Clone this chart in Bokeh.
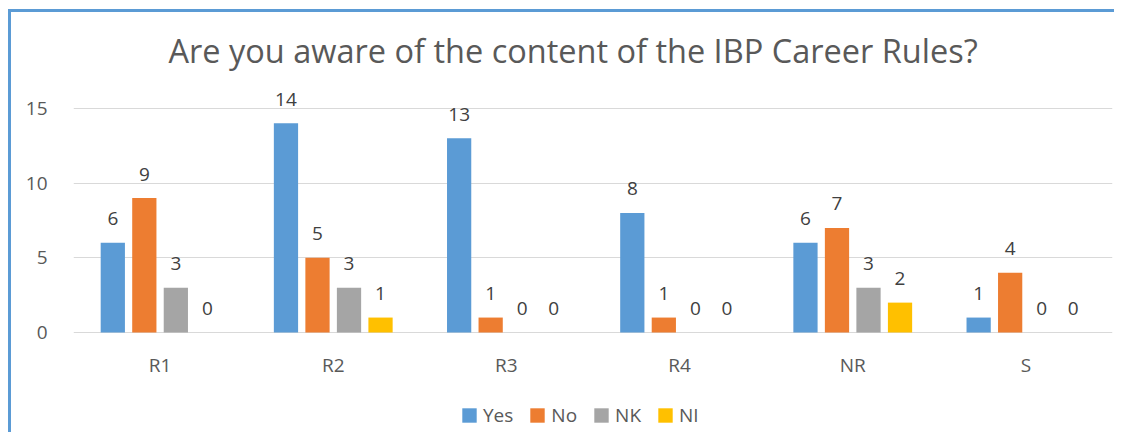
from bokeh.plotting import figure
from bokeh.models import (ColumnDataSource, FactorRange, Range1d, FixedTicker,
                          Legend, LegendItem, LabelSet)
from bokeh.core.properties import value
from bokeh.transform import dodge
from bokeh.embed import file_html
from bokeh.resources import INLINE

categories = ["R1", "R2", "R3", "R4", "NR", "S"]
series = ["Yes", "No", "NK", "NI"]
yes = [6, 14, 13, 8, 6, 1]
no = [9, 5, 1, 1, 7, 4]
nk = [3, 3, 0, 0, 3, 0]
ni = [0, 1, 0, 0, 2, 0]
y_ticks = [0, 5, 10, 15]
title_text = "Are you aware of the content of the IBP Career Rules?"

colors = ["#5B9BD5", "#ED7D31", "#A5A5A5", "#FFC000"]
offsets = [-0.273, -0.091, 0.091, 0.273]
FONT = "Open Sans"
TXT = "#595959"
FS = "19px"

data = dict(cat=categories, Yes=yes, No=no, NK=nk, NI=ni,
            base=[0] * len(categories))
for s in series:
    data[s + "_lbl"] = [str(v) for v in data[s]]
src = ColumnDataSource(data)

W, H = 1114, 432
FRAME_TOP, ZERO_Y = 78, 332          # pixel rows of the frame top and of y = 0
Y_MAX = 17
ppu = (ZERO_Y - FRAME_TOP) / Y_MAX    # pixels per unit
y_min = -(H - ZERO_Y) / ppu           # frame extends down to hold labels and legend

p = figure(x_range=FactorRange(*categories), y_range=Range1d(y_min, Y_MAX),
           width=W, height=H, output_backend="svg", toolbar_location=None,
           title=title_text,
           styles={"box-shadow": "inset 8px 9px 0 0 #ffffff, inset 11px 12px 0 0 #5B9BD5"})
p.min_border_left = 73
p.min_border_right = 2
p.min_border_top = FRAME_TOP
p.min_border_bottom = 0
p.outline_line_color = None
p.background_fill_color = "white"
p.border_fill_alpha = 0

p.title.text_font = FONT
p.title.text_font_size = "32.5px"
p.title.text_font_style = "normal"
p.title.text_color = TXT
p.title.align = "left"
p.title.offset = 95
p.title.standoff = 12

items = []
for s, c, off in zip(series, colors, offsets):
    r = p.vbar(x=dodge("cat", off, range=p.x_range), top=s, width=0.14, source=src,
               fill_color=c, line_color=None)
    items.append(LegendItem(label=s, renderers=[r]))
    lbl = LabelSet(x=dodge("cat", off, range=p.x_range), y=s, text=s + "_lbl", source=src,
                   text_align="center", text_baseline="middle", y_offset=24,
                   text_font=value(FONT), text_font_size=FS, text_color="#404040")
    p.add_layout(lbl)

# category labels under the zero line
p.add_layout(LabelSet(x="cat", y="base", text="cat", source=src,
                      text_align="center", text_baseline="middle", y_offset=-32,
                      text_font=value(FONT), text_font_size=FS, text_color=TXT))

p.xaxis.visible = False
p.xgrid.grid_line_color = None
p.ygrid.grid_line_color = "#D9D9D9"
p.ygrid.grid_line_width = 1
p.yaxis.ticker = FixedTicker(ticks=y_ticks)
p.yaxis.axis_line_color = None
p.yaxis.major_tick_line_color = None
p.yaxis.minor_tick_line_color = None
p.yaxis.major_label_standoff = 20
p.yaxis.major_label_text_font = FONT
p.yaxis.major_label_text_font_size = FS
p.yaxis.major_label_text_color = TXT

legend = Legend(items=items, orientation="horizontal", location=(387, 4),
                border_line_color=None, background_fill_alpha=0,
                label_text_font=FONT, label_text_font_size=FS, label_text_color=TXT,
                glyph_width=18, glyph_height=18, label_standoff=5, spacing=15,
                padding=0, margin=0)
p.add_layout(legend, "center")

open("out.html", "w").write(file_html(p, INLINE))
